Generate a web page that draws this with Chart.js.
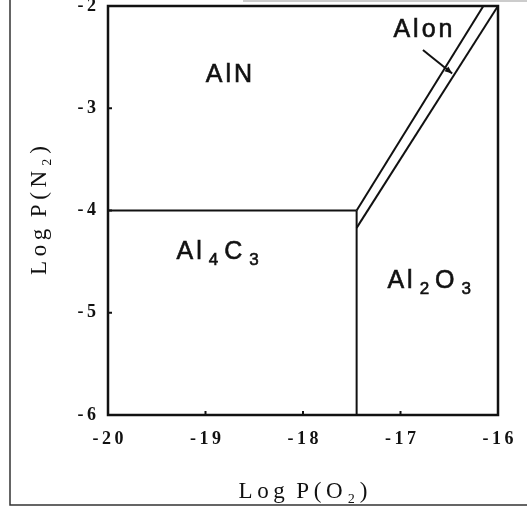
<!DOCTYPE html>
<html>
<head>
<meta charset="utf-8">
<script src="https://cdn.jsdelivr.net/npm/chart.js@4/dist/chart.umd.min.js"></script>
<style>
  body { margin: 0; background: #fff; }
  canvas { display: block; }
</style>
</head>
<body>
<canvas id="canvas" width="527" height="507"></canvas>
<script>
var xTickLabels = ['-20', '-19', '-18', '-17', '-16'];
var yTickLabels = ['-6', '-5', '-4', '-3', '-2'];

// phase boundaries as [log P(O2), log P(N2)]
var alnAl4c3 = [[-20, -4], [-17.45, -4]];
var al4c3Al2o3 = [[-17.45, -6], [-17.45, -4]];
var alnAlon = [[-17.45, -4], [-16.15, -2]];
var alonAl2o3 = [[-17.45, -4.17], [-16, -2]];

// field names (digits are subscripts) and their centres
var phaseNames = ['AlN', 'Alon', 'Al4C3', 'Al2O3'];
var phaseAt = [[-18.76, -2.66], [-16.77, -2.22], [-18.86, -4.39], [-16.69, -4.67]];
var alonArrow = [[-16.77, -2.43], [-16.47, -2.66]];

function spaced(s) {
  return s.charAt(0) + '\u2009' + s.slice(1).split('').join('\u2009');
}

function drawName(ctx, name, cx, cy) {
  var big = '25px "Liberation Sans", Arial, sans-serif';
  var small = '17px "Liberation Sans", Arial, sans-serif';
  var parts = name.split('');
  var w = 0;
  var widths = parts.map(function (ch) {
    var sub = /[0-9]/.test(ch);
    ctx.font = sub ? small : big;
    var cw = ctx.measureText(ch).width + (sub ? 10 : 3);
    w += cw;
    return cw;
  });
  w -= 3;
  var x = cx - w / 2;
  var base = cy + 9;
  ctx.textAlign = 'left';
  ctx.textBaseline = 'alphabetic';
  ctx.lineWidth = 0.6;
  parts.forEach(function (ch, i) {
    var sub = /[0-9]/.test(ch);
    ctx.font = sub ? small : big;
    var tx = x + (sub ? 4 : 0), ty = sub ? base + 6 : base;
    ctx.fillText(ch, tx, ty);
    ctx.strokeText(ch, tx, ty);
    x += widths[i];
  });
}

var decor = {
  id: 'decor',
  afterDatasetsDraw: function (chart) {
    var ctx = chart.ctx;
    var a = chart.chartArea;
    var xs = chart.scales.x;
    var ys = chart.scales.y;
    ctx.save();
    ctx.strokeStyle = '#111';
    ctx.fillStyle = '#111';

    // box round the plot
    ctx.lineWidth = 2.5;
    ctx.strokeRect(a.left, a.top, a.right - a.left, a.bottom - a.top);

    // small inward ticks
    ctx.lineWidth = 2;
    xs.ticks.forEach(function (t, i) {
      if (i == 0 || i == xs.ticks.length - 1) return;
      var px = xs.getPixelForValue(t.value);
      ctx.beginPath();
      ctx.moveTo(px, a.bottom);
      ctx.lineTo(px, a.bottom - 4);
      ctx.stroke();
    });
    ys.ticks.forEach(function (t, i) {
      if (i == 0 || i == ys.ticks.length - 1) return;
      var py = ys.getPixelForValue(t.value);
      ctx.beginPath();
      ctx.moveTo(a.left, py);
      ctx.lineTo(a.left + 4, py);
      ctx.stroke();
    });

    // field names
    phaseNames.forEach(function (n, i) {
      drawName(ctx, n, xs.getPixelForValue(phaseAt[i][0]), ys.getPixelForValue(phaseAt[i][1]));
    });

    // arrow pointing at the Alon band
    var x0 = xs.getPixelForValue(alonArrow[0][0]), y0 = ys.getPixelForValue(alonArrow[0][1]);
    var x1 = xs.getPixelForValue(alonArrow[1][0]), y1 = ys.getPixelForValue(alonArrow[1][1]);
    var ang = Math.atan2(y1 - y0, x1 - x0);
    ctx.lineWidth = 2;
    ctx.beginPath();
    ctx.moveTo(x0, y0);
    ctx.lineTo(x1, y1);
    ctx.stroke();
    ctx.beginPath();
    ctx.moveTo(x1, y1);
    ctx.lineTo(x1 - 8 * Math.cos(ang - 0.4), y1 - 8 * Math.sin(ang - 0.4));
    ctx.lineTo(x1 - 8 * Math.cos(ang + 0.4), y1 - 8 * Math.sin(ang + 0.4));
    ctx.closePath();
    ctx.fill();

    // scan frame of the page
    ctx.lineWidth = 1.5;
    ctx.strokeStyle = '#333';
    ctx.beginPath();
    ctx.moveTo(10, 0);
    ctx.lineTo(10, 505);
    ctx.lineTo(527, 505);
    ctx.stroke();
    ctx.strokeStyle = '#999';
    ctx.lineWidth = 1;
    ctx.beginPath();
    ctx.moveTo(243, 1);
    ctx.lineTo(527, 1);
    ctx.stroke();
    ctx.restore();
  }
};

var sets = [alnAl4c3, al4c3Al2o3, alnAlon, alonAl2o3].map(function (pts) {
  return {
    data: pts.map(function (p) { return {x: p[0], y: p[1]}; }),
    showLine: true,
    borderColor: '#111',
    borderWidth: 2,
    pointRadius: 0,
    fill: false
  };
});

var tickFont = {family: '"Liberation Serif", serif', size: 18, weight: 'bold'};
var titleFont = {family: '"Liberation Serif", serif', size: 23};

new Chart(document.getElementById('canvas'), {
  type: 'scatter',
  data: {datasets: sets},
  options: {
    responsive: false,
    animation: false,
    layout: {padding: {left: 0, top: 6, right: 29, bottom: 0}},
    plugins: {legend: {display: false}, tooltip: {enabled: false}},
    scales: {
      x: {
        type: 'linear',
        min: -20,
        max: -16,
        grid: {display: false, drawTicks: false},
        border: {display: false},
        ticks: {
          stepSize: 1,
          padding: 14,
          maxRotation: 0,
          color: '#111',
          font: tickFont,
          callback: function (v, i) { return spaced(xTickLabels[i]); }
        },
        title: {display: true, text: 'L\u2009o\u2009g  P\u2009(\u2009O\u2009₂\u2009)', color: '#111', font: titleFont, padding: {top: 0, bottom: 1}},
        afterFit: function (s) { s.height = 92; s.paddingLeft = 0; s.paddingRight = 0; }
      },
      y: {
        type: 'linear',
        min: -6,
        max: -2,
        grid: {display: false, drawTicks: false},
        border: {display: false},
        ticks: {
          stepSize: 1,
          padding: 12,
          color: '#111',
          font: tickFont,
          callback: function (v, i) { return spaced(yTickLabels[i]); }
        },
        title: {display: true, text: 'L\u2009o\u2009g  P\u2009(\u2009N\u2009₂\u2009)', color: '#111', font: titleFont, padding: {top: 26, bottom: 0}},
        afterFit: function (s) { s.width = 108; s.paddingTop = 0; s.paddingBottom = 0; }
      }
    }
  },
  plugins: [decor]
});
</script>
</body>
</html>
